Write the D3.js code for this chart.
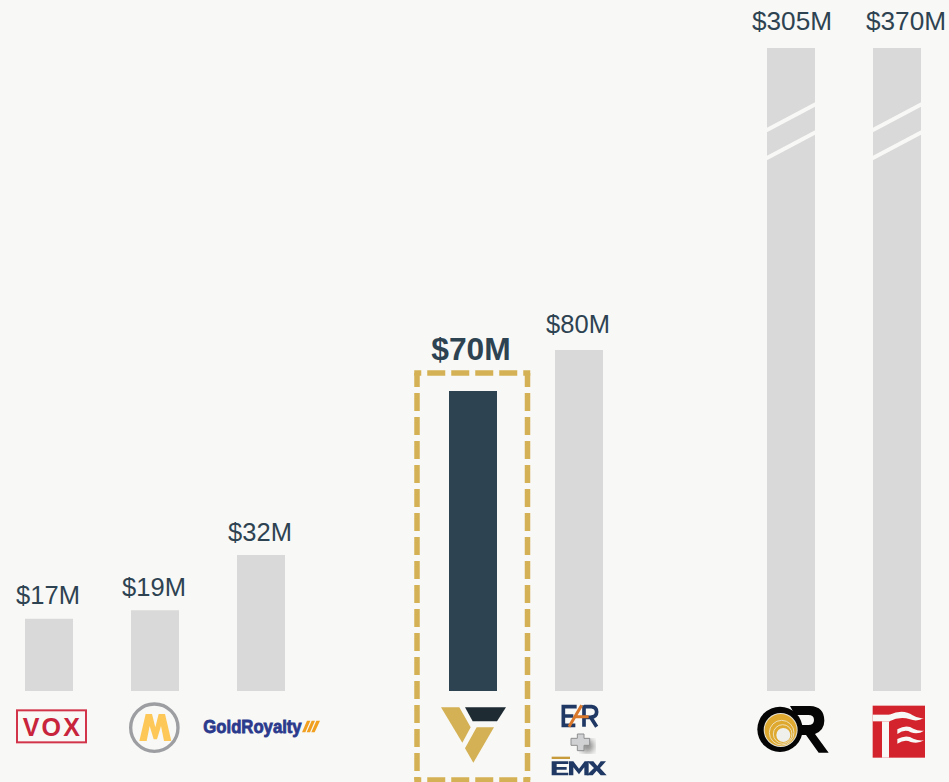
<!DOCTYPE html>
<html><head><meta charset="utf-8">
<script src="https://cdn.jsdelivr.net/npm/d3@7/dist/d3.min.js"></script>
<style>html,body{margin:0;padding:0;background:#f8f8f6;overflow:hidden}text{font-family:"Liberation Sans",Arial,sans-serif}</style>
</head><body><svg id="c" width="949" height="782"></svg>
<script>
const slots = ["Vox","Metalla","Gold Royalty","gap1","Vitalis","EAR + EMX","gap2","Osisko","Triple Flag"];
const companies = ["Vox","Metalla","Gold Royalty","Vitalis","EAR + EMX","Osisko","Triple Flag"];
const values = [17,19,32,70,80,305,370];
const labels = ["$17M","$19M","$32M","$70M","$80M","$305M","$370M"];
const highlighted = ["Vitalis"];
const broken = ["Osisko","Triple Flag"];

const BG="#f8f8f6", INK="#2e4352", GREY="#d9d9d9", GOLD="#d4b154";
const svg=d3.select("#c");
svg.append("defs").append("filter").attr("id","soft").append("feGaussianBlur").attr("stdDeviation",9);
svg.append("rect").attr("width",949).attr("height",782).attr("fill",BG);

const x=d3.scaleBand().domain(slots).range([-4,950]).paddingInner(58/106).paddingOuter(29/106);
const y=d3.scaleLinear().domain([0,32,70,80,305]).range([691,555,391,350,48]).clamp(true);
const rows=companies.map((c,i)=>({c,v:values[i],l:labels[i]}));
const isHi=d=>highlighted.includes(d.c), isBr=d=>broken.includes(d.c);

svg.append("g").selectAll("rect").data(rows).join("rect")
 .attr("x",d=>x(d.c)).attr("width",x.bandwidth())
 .attr("y",d=>y(d.v)).attr("height",d=>y(0)-y(d.v))
 .attr("fill",d=>isHi(d)?"#2e4352":GREY);

svg.append("g").selectAll("text").data(rows).join("text")
 .attr("x",d=>x(d.c)+x.bandwidth()/2+(d.c==="Triple Flag"?9:isBr(d)?1:isHi(d)?-2:-1))
 .attr("y",d=>isHi(d)?y(d.v)-31:y(d.v)-(isBr(d)?18.5:d.v>=80?17:14.5))
 .attr("text-anchor","middle")
 .attr("fill",INK)
 .attr("font-size",d=>isHi(d)?31.8:isBr(d)?26.2:25.5)
 .attr("font-weight",d=>isHi(d)?"bold":"normal")
 .text(d=>d.l);

// axis-break slashes
const brk=svg.append("g");
broken.forEach(c=>{
  [0,28].forEach(o=>{
    brk.append("line").attr("x1",x(c)-1).attr("x2",x(c)+x.bandwidth()+1)
     .attr("y1",130.5+o).attr("y2",104+o).attr("stroke",BG).attr("stroke-width",4);
  });
});

// dashed highlight box
const box=svg.append("g").attr("stroke",GOLD).attr("stroke-width",5.5).attr("fill","none");
const L=417,R=527.5,T=373,B=780;
box.append("line").attr("x1",L-2.75).attr("x2",R+2.75).attr("y1",T).attr("y2",T).attr("stroke-dasharray","18 6").attr("stroke-dashoffset",11);
box.append("line").attr("x1",L-2.75).attr("x2",R+2.75).attr("y1",B).attr("y2",B).attr("stroke-dasharray","18 6").attr("stroke-dashoffset",11);
box.append("line").attr("x1",L).attr("x2",L).attr("y1",T).attr("y2",B).attr("stroke-dasharray","18 6").attr("stroke-dashoffset",4);
box.append("line").attr("x1",R).attr("x2",R).attr("y1",T).attr("y2",B).attr("stroke-dasharray","18 6").attr("stroke-dashoffset",4);

// logos, drawn in 3x crop units
const logo=(ox,oy)=>svg.append("g").attr("transform",`translate(${ox},${oy}) scale(${1/3})`);
const poly=(g,pts,fill)=>g.append("polygon").attr("points",pts).attr("fill",fill);

// VOX
let g=logo(0,690);
g.append("rect").attr("x",51).attr("y",61).attr("width",207).attr("height",96).attr("fill","none").attr("stroke","#d2344a").attr("stroke-width",6);
g.append("text").attr("transform","translate(68,137) scale(.95,1)").attr("font-size",79).attr("font-weight","bold").attr("fill","#c8243c").attr("letter-spacing",7).text("VOX");

// Metalla
g=logo(0,690);
g.append("circle").attr("cx",463).attr("cy",113).attr("r",71).attr("fill","none").attr("stroke","#9c9ea1").attr("stroke-width",10);
g.append("path").attr("d","M418,153L437,72H456L466,112L476,72H495L514,153H492L483,108L471,148H461L449,108L440,153Z").attr("fill","#fdc858");

// Gold Royalty
g=logo(0,690);
g.append("text").attr("x",610).attr("y",128).attr("font-size",56).attr("font-weight","bold").attr("fill","#2b3a8c").attr("stroke","#2b3a8c").attr("stroke-width",2.5).attr("textLength",295).attr("lengthAdjust","spacingAndGlyphs").text("GoldRoyalty");
["906,127 921,92 931,92 916,127","920,127 935,92 945,92 930,127","934,127 949,92 960,92 944,127"].forEach(p=>poly(g,p,"#f0a01e"));

// Vitalis
g=logo(400,680);
poly(g,"123,82 178,82 212,142 187,188",GOLD);
poly(g,"230,142 282,142 220,248 195,205",GOLD);
poly(g,"195,82 318,82 291,124 218,124","#1f2b33");

// EAR + EMX
g=logo(400,680);
const NAVY="#1f3864";
g.append("path").attr("d","M530,80H490V136H526M490,108H520").attr("fill","none").attr("stroke",NAVY).attr("stroke-width",11);
g.append("path").attr("d","M552,80H575Q590,82 590,96Q590,110 572,112H556M572,112L590,140M552,76V140").attr("fill","none").attr("stroke",NAVY).attr("stroke-width",11);
g.append("path").attr("d","M507,140L545,76M522,110H566").attr("fill","none").attr("stroke","#d9772a").attr("stroke-width",9);
g.append("circle").attr("cx",562).attr("cy",198).attr("r",20).attr("fill","#8a8a8a").attr("filter","url(#soft)");
g.append("path").attr("d","M532,162H552V175H569V196H552V212H532V196H513V175H532Z").attr("fill","#d0d1d2").attr("stroke","#8e8f90").attr("stroke-width",3);
g.append("rect").attr("x",455).attr("y",230).attr("width",55).attr("height",7).attr("fill","#c79a3a");
g.append("path").attr("d","M455,244H505V252H470V261H500V269H470V278H505V286H455Z").attr("fill",NAVY);
g.append("path").attr("d","M507,286V244H520L537,266L554,244H566V286H553V262L537,283L520,262V286Z").attr("fill",NAVY);
g.append("path").attr("d","M562,244H580L592,258L602,244H618L600,264L620,286H602L590,272L578,286H560L582,264Z").attr("fill",NAVY);

// Osisko
g=logo(740,690);
g.append("path").attr("d","M150,48H210Q253,50 253,92Q253,120 225,132L266,188H236L198,135H165V105H205Q222,105 222,90Q222,75 205,75H165Z").attr("fill","#050505");
g.append("circle").attr("cx",120).attr("cy",118).attr("r",68).attr("fill","#050505");
g.append("circle").attr("cx",122).attr("cy",120).attr("r",51).attr("fill","#e6e1d2");
g.append("circle").attr("cx",122).attr("cy",120).attr("r",48).attr("fill","#dfa92f");
g.append("circle").attr("cx",125).attr("cy",128).attr("r",37).attr("fill","none").attr("stroke","#eddfb8").attr("stroke-width",3);
g.append("circle").attr("cx",128).attr("cy",132).attr("r",28).attr("fill","none").attr("stroke","#eddfb8").attr("stroke-width",3);
g.append("circle").attr("cx",130).attr("cy",135).attr("r",21).attr("fill","#efefec");

// Triple Flag
g=logo(740,690);
g.append("rect").attr("x",398).attr("y",47).attr("width",157).attr("height",156).attr("fill","#d3232c");
g.append("rect").attr("x",398).attr("y",74).attr("width",52).attr("height",20).attr("fill",BG);
g.append("rect").attr("x",426).attr("y",94).attr("width",21).attr("height",109).attr("fill",BG);
g.append("path").attr("d","M448,74Q490,56 518,76Q535,87 552,84Q532,96 510,88Q480,78 448,94Z").attr("fill",BG);
g.append("path").attr("d","M472,118Q500,102 520,116Q535,124 552,122Q535,134 512,127Q495,116 472,132Z").attr("fill",BG);
g.append("path").attr("d","M472,147Q500,132 520,146Q535,153 552,151Q535,162 512,156Q495,146 472,161Z").attr("fill",BG);
</script></body></html>
